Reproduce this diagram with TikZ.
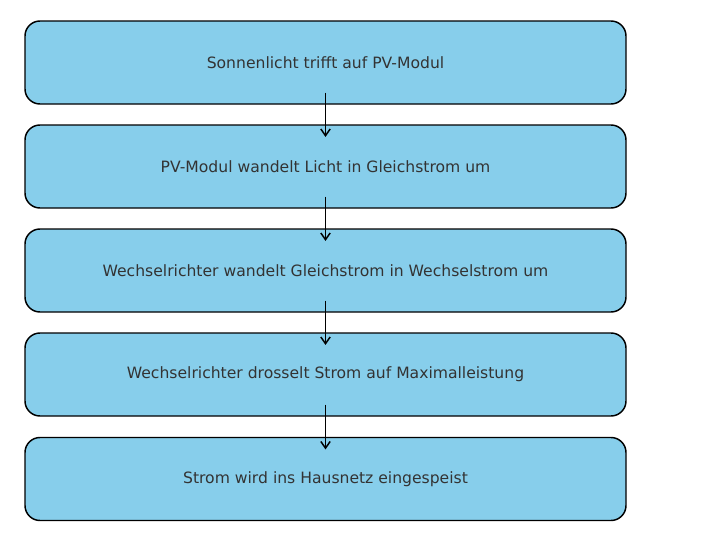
\documentclass[tikz,border=0pt]{standalone}
\usepackage{fontspec}
\setmainfont{DejaVu Sans}
\usepackage{tikz}
\usetikzlibrary{shapes.geometric, arrows.meta}
\definecolor{boxblue}{HTML}{87CEEB}
\definecolor{textgrey}{HTML}{333333}
\tikzstyle{stepbox} = [draw=black, fill=boxblue, line width=1.1pt, rounded corners=11.25pt, minimum width=450.75pt, minimum height=62.25pt, text=textgrey, font=\fontsize{11.7}{14}\selectfont]
\tikzstyle{arrow} = [line width=1.1pt,-{Straight Barb[length=5pt,width=7pt]}, shorten <=-9pt, shorten >=-9.5pt]

\begin{document}
\begin{tikzpicture}[x=0.75pt, y=-0.75pt]
	\useasboundingbox (0,0) rectangle (721,543);
	\node[stepbox] (s1) at (325.5,62.5) {Sonnenlicht trifft auf PV-Modul};
	\node[stepbox] (s2) at (325.5,166.5) {PV-Modul wandelt Licht in Gleichstrom um};
	\node[stepbox] (s3) at (325.5,270.5) {Wechselrichter wandelt Gleichstrom in Wechselstrom um};
	\node[stepbox] (s4) at (325.5,374.5) {Wechselrichter drosselt Strom auf Maximalleistung};
	\node[stepbox] (s5) at (325.5,479) {Strom wird ins Hausnetz eingespeist};
	\draw[arrow] (s1.south) -- (s2.north);
	\draw[arrow] (s2.south) -- (s3.north);
	\draw[arrow] (s3.south) -- (s4.north);
	\draw[arrow] (s4.south) -- (s5.north);
\end{tikzpicture}
\end{document}
